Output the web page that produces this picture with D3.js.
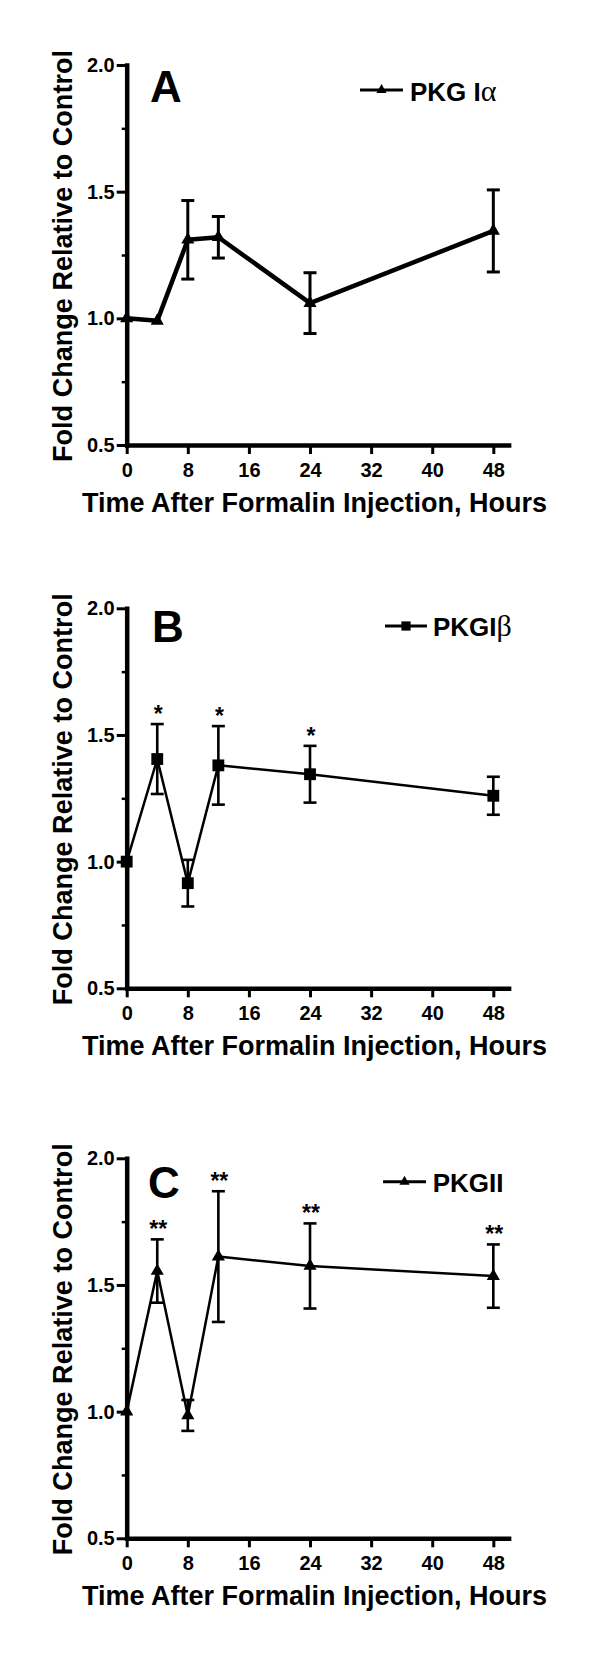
<!DOCTYPE html>
<html>
<head>
<meta charset="utf-8">
<script src="https://cdn.jsdelivr.net/npm/d3@7"></script>
<style>
  html, body { margin: 0; padding: 0; background: #fff; }
  svg { display: block; }
  text { font-family: "Liberation Sans", Arial, Helvetica, sans-serif; font-weight: bold; fill: #000; }
  .tick text { font-size: 20px; }
</style>
</head>
<body>
<script>
// ---------- data ----------
const times = [0, 4, 8, 12, 24, 48];
const xTicks = [0, 8, 16, 24, 32, 40, 48];
const yTicks = [0.5, 1.0, 1.5, 2.0];
const yMinorTicks = [0.75, 1.25, 1.75];

const pkgIaMean = [1.00, 0.99, 1.31, 1.32, 1.06, 1.345];
const pkgIaSem  = [0,    0,    0.155, 0.082, 0.12, 0.162];
const pkgIaSig  = ["", "", "", "", "", ""];

const pkgIbMean = [1.00, 1.405, 0.915, 1.38, 1.345, 1.26];
const pkgIbSem  = [0,    0.138, 0.092, 0.155, 0.112, 0.075];
const pkgIbSig  = ["", "*", "", "*", "*", ""];

const pkgIIMean = [1.00, 1.555, 0.985, 1.612, 1.575, 1.535];
const pkgIISem  = [0,    0.125, 0.061, 0.258, 0.168, 0.125];
const pkgIISig  = ["", "**", "", "**", "**", "**"];

const xTitle = "Time After Formalin Injection, Hours";
const yTitle = "Fold Change Relative to Control";

// ---------- layout ----------
const W = 600, H = 1656;
const svg = d3.select("body").append("svg").attr("width", W).attr("height", H);
svg.append("rect").attr("width", W).attr("height", H).attr("fill", "#fff");

const x = d3.scaleLinear().domain([0, 50]).range([126.7, 508.6]);

const panels = [
  { letter: "A", top: 65,    letterX: 150, letterY: 102,  mean: pkgIaMean, sem: pkgIaSem, sig: pkgIaSig,
    marker: d3.symbolTriangle, lineW: 4.5, errW: 3,
    legend: { label: "PKG I", greek: "α", x1: 360, x2: 403, y: 90, tx: 410, ty: 100.7 } },
  { letter: "B", top: 608.3, letterX: 152, letterY: 641.7, mean: pkgIbMean, sem: pkgIbSem, sig: pkgIbSig,
    marker: d3.symbolSquare, lineW: 2.5, errW: 2.6,
    legend: { label: "PKGI", greek: "β", x1: 385, x2: 427, y: 626, tx: 433, ty: 636 } },
  { letter: "C", top: 1158.3, letterX: 148, letterY: 1198, mean: pkgIIMean, sem: pkgIISem, sig: pkgIISig,
    marker: d3.symbolTriangle, lineW: 2.5, errW: 2.6,
    legend: { label: "PKGII", greek: "", x1: 383, x2: 426, y: 1181.7, tx: 432.7, ty: 1191.7 } }
];

const plotH = 380;
const tickFont = 20;

panels.forEach(p => {
  const y = d3.scaleLinear().domain([0.5, 2.0]).range([p.top + plotH, p.top]);
  const g = svg.append("g");

  // minor y ticks
  g.append("g")
    .attr("transform", `translate(${x(0)},0)`)
    .call(d3.axisLeft(y).tickValues(yMinorTicks).tickSize(5).tickFormat(""))
    .call(s => s.select(".domain").remove())
    .call(s => s.selectAll(".tick line").attr("stroke", "#000").attr("stroke-width", 2.5));

  // y axis
  g.append("g")
    .attr("transform", `translate(${x(0)},0)`)
    .call(d3.axisLeft(y).tickValues(yTicks).tickSize(10).tickSizeOuter(0).tickPadding(2).tickFormat(d3.format(".1f")))
    .attr("font-size", tickFont)
    .call(s => s.select(".domain").attr("stroke", "#000").attr("stroke-width", 4.5).attr("stroke-linecap", "square"))
    .call(s => s.selectAll(".tick line").attr("stroke", "#000").attr("stroke-width", 3))
    .call(s => s.selectAll(".tick text").attr("font-size", tickFont).attr("fill", "#000"));

  // x axis
  g.append("g")
    .attr("transform", `translate(0,${y(0.5)})`)
    .call(d3.axisBottom(x).tickValues(xTicks).tickSize(9).tickSizeOuter(0).tickPadding(9))
    .attr("font-size", tickFont)
    .call(s => s.select(".domain").attr("stroke", "#000").attr("stroke-width", 4.5).attr("stroke-linecap", "square"))
    .call(s => s.selectAll(".tick line").attr("stroke", "#000").attr("stroke-width", 3))
    .call(s => s.selectAll(".tick text").attr("font-size", tickFont).attr("fill", "#000"));

  // axis titles
  g.append("text")
    .attr("x", 314.5).attr("y", y(0.5) + 66.7)
    .attr("text-anchor", "middle").attr("font-size", 27)
    .attr("textLength", 465).attr("lengthAdjust", "spacingAndGlyphs")
    .text(xTitle);

  const yc = (y(0.5) + y(2.0)) / 2 + 1;
  g.append("text")
    .attr("transform", `translate(71.7,${yc}) rotate(-90)`)
    .attr("text-anchor", "middle").attr("font-size", 27)
    .attr("textLength", 412).attr("lengthAdjust", "spacingAndGlyphs")
    .text(yTitle);

  // panel letter
  g.append("text").attr("x", p.letterX).attr("y", p.letterY).attr("font-size", 44).text(p.letter);

  const data = times.map((t, i) => ({ t, m: p.mean[i], s: p.sem[i], sig: p.sig[i] }));

  // error bars
  const eb = g.append("g").attr("stroke", "#000").attr("stroke-width", p.errW).attr("fill", "none");
  data.filter(d => d.s > 0).forEach(d => {
    const cx = x(d.t), yt = y(d.m + d.s), yb = y(d.m - d.s);
    eb.append("line").attr("x1", cx).attr("x2", cx).attr("y1", yt).attr("y2", yb);
    eb.append("line").attr("x1", cx - 6.5).attr("x2", cx + 6.5).attr("y1", yt).attr("y2", yt);
    eb.append("line").attr("x1", cx - 6.5).attr("x2", cx + 6.5).attr("y1", yb).attr("y2", yb);
  });

  // line
  g.append("path")
    .datum(data)
    .attr("fill", "none").attr("stroke", "#000").attr("stroke-width", p.lineW)
    .attr("stroke-linejoin", "round")
    .attr("d", d3.line().x(d => x(d.t)).y(d => y(d.m)));

  // markers
  const isTri = p.marker === d3.symbolTriangle;
  const sym = d3.symbol().type(p.marker).size(isTri ? 75 : 140);
  g.selectAll(".mk").data(data).enter().append("path")
    .attr("transform", d => `translate(${x(d.t)},${y(d.m)})`)
    .attr("d", sym).attr("fill", "#000");

  // significance
  g.selectAll(".sig").data(data.filter(d => d.sig)).enter().append("text")
    .attr("x", d => x(d.t) + 1).attr("y", d => y(d.m + d.s) - 2)
    .attr("text-anchor", "middle").attr("font-size", 23)
    .text(d => d.sig);

  // legend
  const L = p.legend;
  g.append("line").attr("x1", L.x1).attr("x2", L.x2).attr("y1", L.y).attr("y2", L.y)
    .attr("stroke", "#000").attr("stroke-width", 3);
  g.append("path")
    .attr("transform", `translate(${(L.x1 + L.x2) / 2},${L.y})`)
    .attr("d", d3.symbol().type(p.marker).size(isTri ? 45 : 85)).attr("fill", "#000");
  const lt = g.append("text").attr("x", L.tx).attr("y", L.ty).attr("font-size", 26);
  lt.append("tspan").text(L.label);
  if (L.greek) {
    lt.append("tspan").attr("font-family", "'Liberation Serif', 'Times New Roman', serif")
      .attr("font-weight", "normal").attr("font-size", 30).text(L.greek);
  }
});
</script>
</body>
</html>
